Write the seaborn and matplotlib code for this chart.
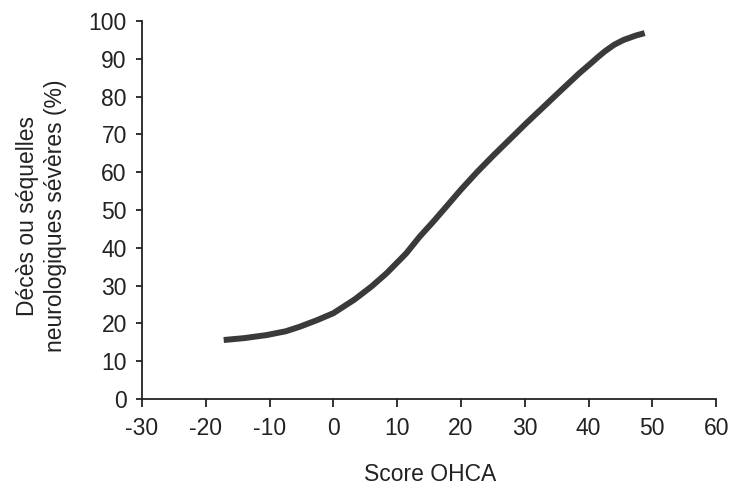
import numpy as np
import matplotlib
matplotlib.use("Agg")
import matplotlib.pyplot as plt
import seaborn as sns
import pandas as pd

# points
score = [-17.2, -14.0, -10.5, -7.5, -5.3, -2.5, 0.0, 3.3, 6.0, 8.3, 11.4,
         13.5, 15.6, 17.5, 20.0, 22.5, 25.0, 30.2, 35.4, 38.5, 40.5, 41.5,
         42.5, 44.0, 45.5, 47.5, 48.8]
risk = [15.6, 16.1, 16.9, 17.9, 19.1, 20.9, 22.7, 26.3, 29.8, 33.2, 38.5,
        42.9, 46.8, 50.5, 55.4, 60.0, 64.3, 72.9, 81.2, 86.1, 89.0, 90.5,
        91.9, 93.7, 95.0, 96.2, 96.8]

df = pd.DataFrame({"score": score, "risk": risk})

sns.set_style("ticks")
plt.rcParams["font.family"] = ["Liberation Sans", "DejaVu Sans"]
plt.rcParams["axes.unicode_minus"] = False

fig = plt.figure(figsize=(7.36, 4.93), dpi=100)
ax = fig.add_axes([0.193, 0.1907, 0.780, 0.7667])

sns.lineplot(data=df, x="score", y="risk", ax=ax, color="#3a3a3a",
             linewidth=4.3, solid_capstyle="butt", solid_joinstyle="round")

ax.set_xlim(-30, 60)
ax.set_ylim(0, 100)
ax.set_xticks(range(-30, 61, 10))
ax.set_yticks(range(0, 101, 10))
ax.tick_params(labelsize=16.5, width=1.3, color="#222222", labelcolor="#222222")
ax.tick_params(axis="x", length=6, pad=7)
ax.tick_params(axis="y", length=4.5, pad=6.5)
for s in ["left", "bottom"]:
    ax.spines[s].set_linewidth(1.3)
    ax.spines[s].set_color("#222222")
sns.despine(ax=ax)

ax.set_xlabel("Score OHCA", fontsize=16.5, color="#222222")
ax.xaxis.set_label_coords(0.501, -0.17)
ax.set_ylabel("Décès ou séquelles\nneurologiques sévères (%)", fontsize=16.5,
              color="#222222", linespacing=1.25)
ax.yaxis.set_label_coords(-0.131, 0.485)

fig.savefig("out.png", dpi=100)
